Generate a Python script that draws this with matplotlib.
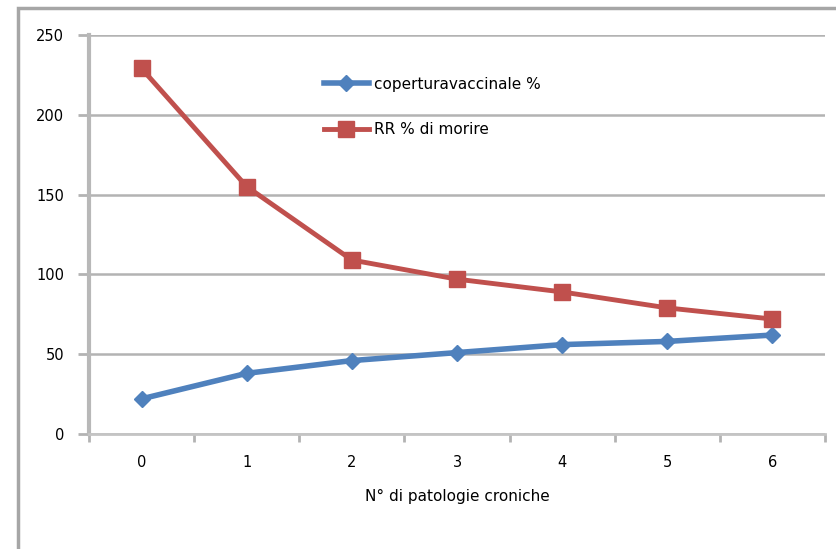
import numpy as np
import matplotlib
matplotlib.use('Agg')
import matplotlib.pyplot as plt
from matplotlib.patches import Rectangle

# dati
categorie = ['0', '1', '2', '3', '4', '5', '6']
copertura = [22, 38, 46, 51, 56, 58, 62]
rr_morire = [229, 155, 109, 97, 89, 79, 72]

fig = plt.figure(figsize=(8.37, 5.49), dpi=100)

# bordo esterno del grafico (stile Excel)
fig.patches.append(Rectangle((18/837, -0.1), 1.2, 1.1 - 8/549,
                             transform=fig.transFigure, fill=False,
                             edgecolor='#a6a6a6', linewidth=2.5))

ax = fig.add_axes([0.1063, 0.2095, 0.8794, 0.7268])

x = np.arange(len(categorie))
ax.plot(x, copertura, color='#4f81bd', linewidth=4, marker='D', markersize=8,
        label='coperturavaccinale %')
ax.plot(x, rr_morire, color='#c0504d', linewidth=3.5, marker='s', markersize=11,
        label='RR % di morire')

ax.set_xlim(-0.5, 6.5)
ax.set_ylim(0, 250)
ax.set_yticks([0, 50, 100, 150, 200, 250])
ax.set_xticks(x)
ax.set_xticklabels(categorie)
ax.set_xticks(np.arange(-0.5, 7, 1), minor=True)
ax.tick_params(axis='x', which='major', length=0, pad=15, labelsize=10.5)
ax.tick_params(axis='x', which='minor', length=6, width=2, color='#b3b3b3', direction='out')
ax.tick_params(axis='y', length=8, width=2, color='#b3b3b3', pad=10, labelsize=10.5)

ax.grid(axis='y', color='#b3b3b3', linewidth=1.8)
ax.set_axisbelow(True)
for s in ['top', 'right']:
    ax.spines[s].set_visible(False)
ax.spines['left'].set_color('#b8b8b8')
ax.spines['left'].set_linewidth(3)
ax.spines['bottom'].set_color('#c4c4c4')
ax.spines['bottom'].set_linewidth(2)

ax.set_xlabel('N° di patologie croniche', fontsize=11, labelpad=14)

ax.legend(loc='upper left', bbox_to_anchor=(0.3, 0.93), frameon=False,
          fontsize=11, handlelength=3, labelspacing=2.0, handletextpad=0.3)

plt.savefig('out.png', dpi=100)
